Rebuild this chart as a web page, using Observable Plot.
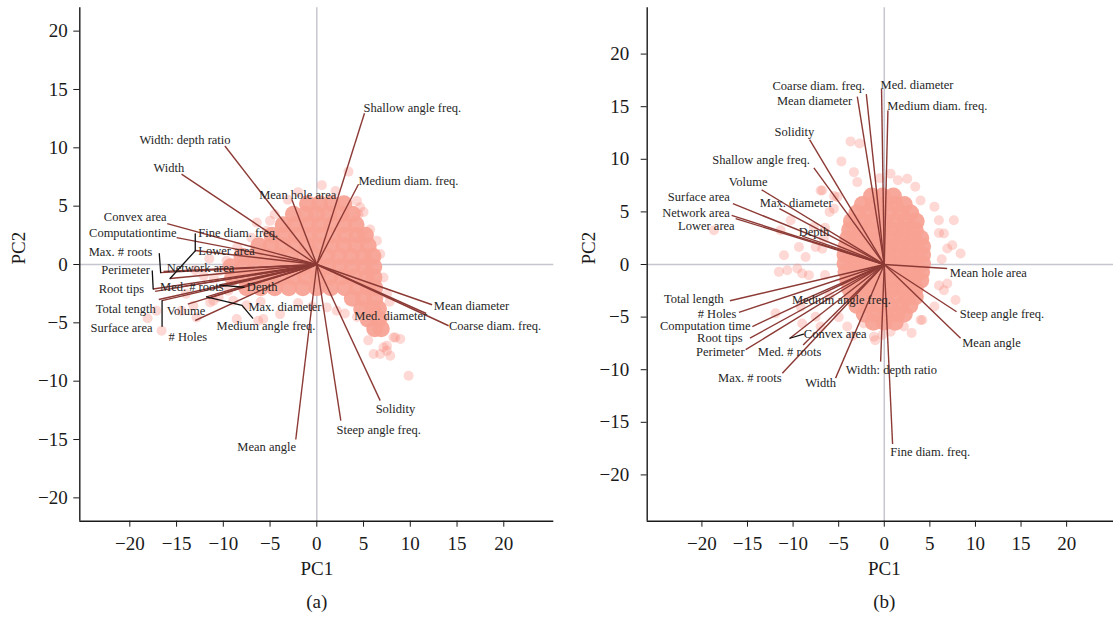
<!DOCTYPE html>
<html><head><meta charset="utf-8">
<script src="https://cdn.jsdelivr.net/npm/d3@7"></script>
<script src="https://cdn.jsdelivr.net/npm/@observablehq/plot@0.6"></script>
<style>
html,body{margin:0;padding:0;background:#fff;}
#wrap{position:relative;width:1113px;height:621px;overflow:hidden;background:#fff;}
#wrap svg{position:absolute;top:0;}
</style></head><body><div id="wrap"></div>
<script>
// ---------- data ----------
const TICKS = [-20, -15, -10, -5, 0, 5, 10, 15, 20];

// Panel (a) loadings
const namesA = ["Shallow angle freq.","Medium diam. freq.","Mean hole area","Width: depth ratio","Width","Convex area","Computationtime","Fine diam. freq.","Lower area","Max. # roots","Network area","Perimeter","Root tips","Med. # roots","Depth","Total tength","Surface area","Volume","# Holes","Max. diameter","Medium angle freq.","Mean diameter","Coarse diam. freq.","Med. diameter","Solidity","Steep angle freq.","Mean angle"];
const pc1A = [5.1,4.46,-2.68,-9.83,-14.47,-16.0,-15.0,-13.0,-15.7,-16.7,-16.4,-17.5,-17.3,-14.5,-10.4,-16.9,-16.55,-13.8,-13.0,-11.8,-11.6,12.33,14.1,11.7,6.78,2.57,-2.25];
const pc2A = [12.96,6.88,5.6,10.16,7.74,3.5,2.3,1.2,-1.2,-0.7,-0.6,-2.1,-2.3,-1.9,-1.76,-3.0,-3.1,-3.4,-4.8,-2.77,-2.9,-3.45,-5.25,-4.2,-11.67,-13.38,-15.0];

// Panel (b) loadings
const namesB = ["Coarse diam. freq.","Mean diameter","Med. diameter","Medium diam. freq.","Solidity","Shallow angle freq.","Volume","Max. diameter","Surface area","Network area","Lower area","Depth","Mean hole area","Steep angle freq.","Mean angle","Total length","# Holes","Computation time","Root tips","Perimeter","Med. # roots","Max. # roots","Width","Convex area","Medium angle freq.","Width: depth ratio","Fine diam. freq."];
const pc1B = [-1.97,-2.96,-0.3,0.4,-8.19,-7.72,-13.45,-11.5,-16.6,-16.74,-16.3,-9.0,6.9,7.93,8.37,-16.93,-15.94,-14.47,-14.73,-15.2,-8.9,-11.18,-5.34,-10.35,-9.5,-0.4,0.91];
const pc2B = [16.2,15.95,16.7,14.63,11.88,9.19,7.1,5.3,5.78,4.67,4.36,2.7,-0.38,-4.49,-7.01,-3.45,-4.55,-5.9,-7.0,-8.1,-7.65,-10.33,-10.8,-7.01,-3.6,-9.23,-17.06];

// Scores, dense core of the cloud (a)
const coreA = [[-1,5.2],[0.3,5.2],[1.6,5.2],[2.9,5.2],
[-2.5,4.3],[-1.2,4.3],[0,4.3],[1.3,4.3],[2.6,4.3],[3.8,4.3],
[-3.6,3.4],[-2.3,3.4],[-1,3.4],[0.3,3.4],[1.6,3.4],[2.9,3.4],[4.2,3.4],
[-4.8,2.5],[-3.5,2.5],[-2.2,2.5],[-0.9,2.5],[0.4,2.5],[1.7,2.5],[3,2.5],[4.3,2.5],[5.2,2.5],
[-6.2,1.6],[-4.9,1.6],[-3.6,1.6],[-2.3,1.6],[-1,1.6],[0.3,1.6],[1.6,1.6],[2.9,1.6],[4.2,1.6],[5.5,1.6],
[-8,0.7],[-6.7,0.7],[-5.4,0.7],[-4.1,0.7],[-2.8,0.7],[-1.5,0.7],[-0.2,0.7],[1.1,0.7],[2.4,0.7],[3.7,0.7],[5,0.7],[6,0.7],
[-9.2,-0.2],[-7.9,-0.2],[-6.6,-0.2],[-5.3,-0.2],[-4,-0.2],[-2.7,-0.2],[-1.4,-0.2],[-0.1,-0.2],[1.2,-0.2],[2.5,-0.2],[3.8,-0.2],[5.1,-0.2],[6.1,-0.2],
[-9,-1.1],[-7.7,-1.1],[-6.4,-1.1],[-5.1,-1.1],[-3.8,-1.1],[-2.5,-1.1],[-1.2,-1.1],[0.1,-1.1],[1.4,-1.1],[2.7,-1.1],[4,-1.1],[5.3,-1.1],[6.1,-1.1],
[-7.5,-2],[-6,-2],[-4.5,-2],[-3,-2],[-1.5,-2],[0,-2],[1.5,-2],[3,-2],[4.3,-2],[5.5,-2],[6.2,-2],
[3.8,-2.9],[5,-2.9],[6.2,-2.9],
[4.8,-3.8],[6,-3.8],[6.6,-3.8],
[5.5,-4.7],[6.6,-4.7],
[6.2,-5.5],[6.9,-5.5]];
// Scores, scattered points (a)
const scatterA = [[3.39,7.96],[0.54,6.8],[-3.1,5.55],[4.29,5.45],[4.46,4.3],[4.64,4.9],
[6.43,2.03],[6.78,0.89],[7.14,-1.11],[7.5,-2.53],[5.0,2.6],[5.71,3.0],
[8.2,-6.25],[7.14,-7.1],[7.5,-7.4],[6.78,-7.67],[9.82,-9.53],[6.07,-7.67],[7.86,-7.82],[8.93,-6.39],[8.4,-6.25],[7.5,-6.96],
[-9.65,0.32],[-10.36,-0.54],[-9.47,-2.25],[-8.94,-3.1],[-11.4,-3.25],[-12.86,-4.54],[-13.2,-3.54],[-8.57,-4.67],[-5.72,-4.67],[-3.93,-4.25],[-14.47,-3.96],[-16.6,-5.68],[-17.15,-3.96],[-18.1,-4.6],[-6.43,3.6],[-6.26,-4.82],[1.07,-3.68],[2.14,-3.96],[-5.36,2.88],[-5,3.74],
[-2,6.2],[2,6.3],[5,4.5],[-4.5,4.3],[-7,2.3],[-8.5,1.5],[-11,-1.2],[-6,-3.2],[-2,-3.3],[4.3,-4.5],[5.5,-6.5],
[-12.1,-0.97],[-11.06,-3.1],[-13,-0.5],[-11.5,0.5],[-14,-2.5],[-10.5,-2.8],[-7.5,-3.5],[7.3,-4.5],[7.8,-3.2],[3,-4.2],[-0.5,-3.6]];

// Scores, dense core of the cloud (b)
const coreB = [[-1.4,6.5],[-0.2,6.5],[1.0,6.5],
[-2.4,5.7],[-1.2,5.7],[0,5.7],[1.2,5.7],[2.2,5.7],
[-3,4.9],[-1.8,4.9],[-0.6,4.9],[0.6,4.9],[1.8,4.9],[2.9,4.9],
[-3.6,4.1],[-2.4,4.1],[-1.2,4.1],[0,4.1],[1.2,4.1],[2.4,4.1],[3.5,4.1],
[-3.8,3.3],[-2.6,3.3],[-1.4,3.3],[-0.2,3.3],[1,3.3],[2.2,3.3],[3.4,3.3],
[-4,2.5],[-2.8,2.5],[-1.6,2.5],[-0.4,2.5],[0.8,2.5],[2,2.5],[3.2,2.5],[4,2.5],
[-4.2,1.7],[-3,1.7],[-1.8,1.7],[-0.6,1.7],[0.6,1.7],[1.8,1.7],[3,1.7],[4.2,1.7],
[-4.3,0.9],[-3.1,0.9],[-1.9,0.9],[-0.7,0.9],[0.5,0.9],[1.7,0.9],[2.9,0.9],[4.2,0.9],
[-4.3,0.1],[-3.1,0.1],[-1.9,0.1],[-0.7,0.1],[0.5,0.1],[1.7,0.1],[2.9,0.1],[4.2,0.1],
[-4.2,-0.7],[-3,-0.7],[-1.8,-0.7],[-0.6,-0.7],[0.6,-0.7],[1.8,-0.7],[3,-0.7],[4.1,-0.7],
[-4,-1.5],[-2.8,-1.5],[-1.6,-1.5],[-0.4,-1.5],[0.8,-1.5],[2,-1.5],[3.2,-1.5],[4,-1.5],
[-3.8,-2.3],[-2.6,-2.3],[-1.4,-2.3],[-0.2,-2.3],[1,-2.3],[2.2,-2.3],[3.4,-2.3],
[-3.5,-3.1],[-2.3,-3.1],[-1.1,-3.1],[0.1,-3.1],[1.3,-3.1],[2.5,-3.1],[3.4,-3.1],
[-3,-3.9],[-1.8,-3.9],[-0.6,-3.9],[0.6,-3.9],[1.8,-3.9],[2.8,-3.9],
[-2.2,-4.7],[-1,-4.7],[0.2,-4.7],[1.4,-4.7],[2.2,-4.7],
[-1.2,-5.5],[0,-5.5],[1.2,-5.5]];
// Scores, scattered points (b)
const scatterB = [[3.98,6.09],[-3.7,11.7],[-2.7,11.5],[-4.7,9.8],[-3.33,8.78],[0.69,8.62],[2.52,8.15],[3.4,7.4],[-2.96,7.83],[-6.98,7.04],[-5.15,6.41],[5.99,4.2],[7.63,4.2],[6.54,2.94],[6.91,1.52],[8.37,1.04],[7.82,-3.38],[6.91,-1.8],[6.54,-2.44],[3.98,-5.28],[2.15,-5.9],[-0.22,-6.7],[-2.24,-5.6],[-11.37,3.25],[-10.27,4.2],[-11.0,0.88],[-11.56,-0.7],[-9.54,-0.38],[-8.27,-1.01],[-8.63,0.72],[-7.53,1.67],[-6.62,2.46],[-9.18,-4.02],[-7.53,-4.97],[-18.68,3.25],[-10.64,-0.54],[-9.0,-0.85],[-11.92,-4.64],[-9.0,-5.6],[-6.98,-5.9],[-4.06,-5.9],[-1.14,-6.86],[0.69,-6.39],[-7.72,3.56],[-9.36,1.67],[-6.8,7.04],[-5.53,5.31],[7.46,1.83],[4.17,-5.28],
[-6,5],[-6.5,3.5],[-6.8,1.5],[-6.5,-1],[-6,-3],[-5,-5],[5.5,5.5],[6,3],[6.3,0.5],[6,-2],[5.5,-4],[3,-6.5],[-1,-7.2],[-3.5,-6.8],[-5.5,6.5],[1.5,8],[-0.5,8.2]];

// ---------- annotation layout (label placement and leader lines) ----------
const layoutA = {
  lx: [5.0,4.45,-2.04,-14.1,-15.83,-16.06,-15.0,-12.67,-12.67,-17.6,-16.06,-17.85,-18.46,-16.77,-7.48,-17.23,-17.56,-16.06,-13.8,-7.31,-5.43,12.52,14.13,11.81,8.41,6.62,-2.23],
  ly: [13.45,7.17,5.97,10.69,8.31,4.03,2.69,2.74,1.17,1.09,-0.34,-0.45,-2.06,-1.97,-1.97,-3.82,-5.45,-3.97,-6.2,-3.6,-5.25,-3.54,-5.25,-4.42,-12.39,-14.16,-15.68],
  la: ["s","s","m","m","m","e","e","s","s","e","s","e","e","s","s","e","e","s","m","s","m","s","s","e","m","m","e"],
  leaders: [
    [[-13.0,2.63],[-13.0,1.17]],
    [[-13.0,1.17],[-15.7,-1.2]],
    [[-16.85,0.94],[-16.7,-0.7]],
    [[-17.6,-0.55],[-17.5,-2.1]],
    [[-10.4,-1.76],[-7.8,-1.95]],
    [[-16.55,-3.1],[-16.55,-5.3]],
    [[-11.8,-2.77],[-8.0,-3.5],[-6.86,-4.6]]
  ]
};
const layoutB = {
  lx: [-2.13,-3.51,-0.41,0.33,-9.86,-8.16,-14.93,-9.65,-16.93,-16.93,-16.41,-7.7,7.19,8.29,8.55,-17.59,-16.23,-14.66,-15.54,-15.32,-10.38,-11.26,-6.98,-8.82,-4.7,0.78,0.66],
  ly: [16.93,15.57,17.09,15.1,12.57,9.98,7.83,5.88,6.41,4.89,3.63,3.09,-0.85,-4.71,-7.49,-3.29,-4.71,-5.85,-7.01,-8.28,-8.28,-10.81,-11.22,-6.61,-3.38,-10.02,-17.82],
  la: ["e","e","s","s","m","e","m","m","e","e","e","m","s","s","s","e","e","e","e","e","m","e","m","s","m","m","s"],
  leaders: [
    [[-10.35,-7.01],[-8.85,-6.62]]
  ]
};

// ---------- drawing ----------
const FONT = "'Liberation Serif', 'DejaVu Serif', serif";
function panel(cfg) {
  const vecs = cfg.names.map((name, i) => ({name, x: cfg.vx[i], y: cfg.vy[i], lx: cfg.lay.lx[i], ly: cfg.lay.ly[i], a: cfg.lay.la[i]}));
  const leaderRows = cfg.lay.leaders.flatMap((pts, k) => pts.map(p => ({x: p[0], y: p[1], k})));
  const anchorMap = {s: "start", e: "end", m: "middle"};
  const textMarks = ["s", "e", "m"].map(a => Plot.text(vecs.filter(d => d.a === a), {
    x: "lx", y: "ly", text: "name", textAnchor: anchorMap[a], fontSize: 12.5, fill: "#262626"
  }));
  const svg = Plot.plot({
    width: cfg.width, height: 621,
    marginLeft: cfg.ml, marginRight: cfg.mr, marginTop: 7.3, marginBottom: 100.3,
    x: {domain: cfg.xd}, y: {domain: cfg.yd},
    style: {fontFamily: FONT, color: "#1a1a1a", background: "transparent", overflow: "visible"},
    marks: [
      Plot.ruleX([0], {stroke: "#c6c6d0", strokeWidth: 1.5}),
      Plot.ruleY([0], {stroke: "#c6c6d0", strokeWidth: 1.5}),
      Plot.dot(cfg.scatter, {x: d => d[0], y: d => d[1], r: 5, fill: "#f98a7c", fillOpacity: 0.33}),
      Plot.dot(cfg.core, {x: d => d[0], y: d => d[1], r: 8.5, fill: "#f7a193", fillOpacity: 0.93}),
      Plot.link(vecs, {x1: () => 0, y1: () => 0, x2: "x", y2: "y", stroke: "#8c3a35", strokeWidth: 1.4}),
      Plot.line(leaderRows, {x: "x", y: "y", z: "k", stroke: "#111", strokeWidth: 1.3}),
      ...textMarks,
      Plot.axisX({ticks: TICKS, tickSize: 6, tickPadding: 9, fontSize: 19, label: null}),
      Plot.axisY({ticks: TICKS, tickSize: 6, tickPadding: cfg.ypad, fontSize: 19, label: null}),
      Plot.ruleX([cfg.xd[0]], {stroke: "#1a1a1a", strokeWidth: 1.4}),
      Plot.ruleY([cfg.yd[0]], {stroke: "#1a1a1a", strokeWidth: 1.4}),
      Plot.text(["PC1"], {x: () => 0, frameAnchor: "bottom", dy: 54, fontSize: 19}),
      Plot.text(["PC2"], {frameAnchor: "left", dx: cfg.pc2dx, rotate: -90, fontSize: 19}),
      Plot.text([cfg.letter], {x: () => 0, frameAnchor: "bottom", dy: 87, fontSize: 19})
    ]
  });
  svg.style.left = cfg.left + "px";
  return svg;
}

const wrap = document.getElementById("wrap");
wrap.appendChild(panel({
  names: namesA, vx: pc1A, vy: pc2A, lay: layoutA, core: coreA, scatter: scatterA,
  width: 556, left: 0, ml: 79.3, mr: 2.7, xd: [-25.35, 25.35], yd: [-22, 22],
  ypad: 6, pc2dx: -61, letter: "(a)"
}));
wrap.appendChild(panel({
  names: namesB, vx: pc1B, vy: pc2B, lay: layoutB, core: coreB, scatter: scatterB,
  width: 557, left: 556, ml: 90.7, mr: 0, xd: [-26, 25.14], yd: [-24.4, 24.4],
  ypad: 12, pc2dx: -58, letter: "(b)"
}));
</script></body></html>
